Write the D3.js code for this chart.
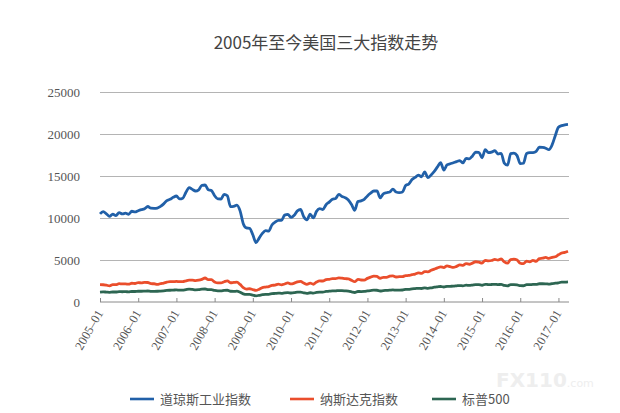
<!doctype html>
<html lang="zh">
<head>
<meta charset="UTF-8">
<title>2005年至今美国三大指数走势</title>
<script src="https://d3js.org/d3.v7.min.js"></script>
<style>
    body { margin: 0; background: #fff; }
    svg { display: block; }
    .grid line { stroke: #b4b4b4; stroke-width: 1; }
    .grid path { display: none; }
    .yaxis path, .yaxis line { display: none; }
    .xaxis path, .xaxis line { stroke: #8a8a8a; }
</style>
</head>
<body>
<svg width="620" height="413"></svg>
<script>
// monthly closes, 2005-01 .. 2017-04
const startYear = 2005, startMonth = 1;

const dow = [
    10490, 10766, 10504, 10193, 10467, 10275, 10641, 10482, 10569, 10440, 10806, 10718,
    10865, 10993, 11109, 11367, 11168, 11150, 11186, 11381, 11679, 12081, 12222, 12463,
    12622, 12269, 12354, 13063, 13628, 13409, 13212, 13358, 13896, 13930, 13372, 13265,
    12650, 12266, 12263, 12820, 12638, 11350, 11378, 11544, 10851, 9325, 8829, 8776,
    8001, 7063, 7609, 8168, 8500, 8447, 9172, 9496, 9712, 9713, 10345, 10428,
    10067, 10325, 10857, 11009, 10137, 9774, 10466, 10015, 10788, 11118, 11006, 11578,
    11892, 12226, 12320, 12811, 12570, 12414, 12143, 11614, 10913, 11955, 12046, 12218,
    12633, 12952, 13212, 13214, 12393, 12880, 13009, 13091, 13437, 13096, 13026, 13104,
    13861, 14054, 14579, 14840, 15116, 14910, 15500, 14810, 15130, 15546, 16086, 16577,
    15699, 16322, 16458, 16581, 16717, 16827, 16563, 17098, 17043, 17391, 17828, 17823,
    17165, 18133, 17776, 17841, 18011, 17620, 17690, 16528, 16285, 17664, 17720, 17425,
    16466, 16517, 17685, 17774, 17787, 17930, 18432, 18401, 18308, 18142, 18700, 19800,
    20800, 21000, 21100, 21150
];

const nasdaq = [
    2062, 2052, 1999, 1922, 2068, 2057, 2185, 2152, 2152, 2120, 2233, 2205,
    2306, 2281, 2340, 2323, 2179, 2172, 2091, 2184, 2258, 2367, 2432, 2415,
    2464, 2416, 2422, 2525, 2605, 2603, 2546, 2596, 2701, 2859, 2661, 2652,
    2390, 2271, 2279, 2413, 2523, 2293, 2326, 2368, 2092, 1721, 1536, 1577,
    1476, 1378, 1529, 1717, 1774, 1835, 1979, 2009, 2122, 2045, 2145, 2269,
    2147, 2238, 2398, 2461, 2257, 2109, 2255, 2114, 2369, 2507, 2498, 2653,
    2700, 2782, 2781, 2874, 2835, 2774, 2756, 2579, 2415, 2684, 2620, 2605,
    2814, 2967, 3092, 3046, 2827, 2935, 2940, 3067, 3116, 2977, 3010, 3020,
    3142, 3160, 3268, 3329, 3456, 3403, 3626, 3590, 3771, 3920, 4060, 4177,
    4104, 4308, 4199, 4115, 4243, 4408, 4370, 4580, 4493, 4631, 4792, 4736,
    4635, 4964, 4901, 4941, 5070, 4987, 5128, 4777, 4620, 5054, 5109, 5007,
    4614, 4558, 4870, 4775, 4948, 4843, 5162, 5213, 5312, 5189, 5324, 5383,
    5615, 5825, 5912, 6048
];

const sp500 = [
    1181, 1204, 1181, 1157, 1192, 1191, 1234, 1220, 1229, 1207, 1249, 1248,
    1280, 1281, 1295, 1311, 1270, 1270, 1277, 1304, 1336, 1378, 1401, 1418,
    1438, 1407, 1421, 1482, 1531, 1503, 1455, 1474, 1527, 1549, 1481, 1468,
    1379, 1331, 1323, 1386, 1400, 1280, 1267, 1283, 1166, 969, 896, 903,
    826, 735, 798, 873, 919, 919, 987, 1021, 1057, 1036, 1096, 1115,
    1074, 1104, 1169, 1187, 1089, 1031, 1102, 1049, 1141, 1183, 1181, 1258,
    1286, 1327, 1326, 1364, 1345, 1321, 1292, 1219, 1131, 1253, 1247, 1258,
    1312, 1366, 1408, 1398, 1310, 1362, 1379, 1407, 1441, 1412, 1416, 1426,
    1498, 1515, 1569, 1598, 1631, 1606, 1686, 1633, 1682, 1757, 1806, 1848,
    1783, 1859, 1872, 1884, 1924, 1960, 1931, 2003, 1972, 2018, 2068, 2059,
    1995, 2105, 2068, 2086, 2107, 2063, 2104, 1972, 1920, 2079, 2080, 2044,
    1940, 1932, 2060, 2065, 2097, 2099, 2174, 2171, 2168, 2126, 2199, 2239,
    2279, 2364, 2363, 2384
];

const yTicks = [0, 5000, 10000, 15000, 20000, 25000];
const seriesNames = ["道琼斯工业指数", "纳斯达克指数", "标普500"];
const seriesColors = ["#2160a8", "#ea4e2c", "#2d6652"];
const series = [dow, nasdaq, sp500];

const months = dow.map((d, i) => {
    const m = startMonth - 1 + i;
    return (startYear + Math.floor(m / 12)) + "–" + String(m % 12 + 1).padStart(2, "0");
});
const xTicks = months.filter(m => m.endsWith("–01"));

const svg = d3.select("svg");
const plotLeft = 100, plotRight = 569, plotTop = 92, plotBottom = 302;
const serif = "'Liberation Serif', 'DejaVu Serif', serif";

const x = d3.scalePoint().domain(months).range([plotLeft, plotRight - 1]);
const y = d3.scaleLinear().domain([0, 25000]).range([plotBottom, plotTop]);

// title
svg.append("text")
    .attr("x", 326).attr("y", 49)
    .attr("text-anchor", "middle")
    .style("font-family", "'Noto Sans CJK SC', sans-serif")
    .style("font-size", "17px")
    .style("fill", "#444")
    .text("2005年至今美国三大指数走势");

// grid
svg.append("g").attr("class", "grid")
    .attr("transform", `translate(${plotLeft},0)`)
    .call(d3.axisRight(y).tickValues(yTicks.slice(1)).tickSize(plotRight - plotLeft).tickFormat(""));

const yAxis = svg.append("g").attr("class", "yaxis")
    .attr("transform", `translate(${plotLeft - 17},0)`)
    .call(d3.axisLeft(y).tickValues(yTicks).tickSize(0).tickFormat(d3.format("d")));
yAxis.attr("font-family", null);
yAxis.selectAll("text")
    .style("font-family", serif).style("font-size", "13px").style("fill", "#555");

// x axis
const xAxis = svg.append("g").attr("class", "xaxis")
    .attr("transform", `translate(0,${plotBottom})`)
    .call(d3.axisBottom(x).tickValues(xTicks).tickSizeInner(-4).tickSizeOuter(0));
xAxis.attr("font-family", null);
xAxis.select(".domain").attr("d", `M${plotLeft},0H${plotRight}`);
xAxis.selectAll("text")
    .style("font-family", serif).style("font-size", "12.5px").style("fill", "#555")
    .attr("text-anchor", "end")
    .attr("dy", 0)
    .attr("transform", "translate(3,11) rotate(-60)")
    .attr("x", 0).attr("y", 0);

// lines
const line = d3.line()
    .x((d, i) => x(months[i]))
    .y(d => y(d))
    .curve(d3.curveMonotoneX);

[2, 1, 0].forEach(k => {
    svg.append("path")
        .datum(series[k])
        .attr("fill", "none")
        .attr("stroke", seriesColors[k])
        .attr("stroke-width", 2.8)
        .attr("stroke-linejoin", "round")
        .attr("d", line);
});

// legend
const legendX = [130, 290, 432];
const legend = svg.append("g");
seriesNames.forEach((name, k) => {
    legend.append("line")
        .attr("x1", legendX[k]).attr("x2", legendX[k] + 24)
        .attr("y1", 399).attr("y2", 399)
        .attr("stroke", seriesColors[k]).attr("stroke-width", 2.6);
    legend.append("text")
        .attr("x", legendX[k] + 30).attr("y", 404)
        .style("font-family", "'Noto Sans CJK SC', 'Liberation Serif', serif")
        .style("font-size", "13px")
        .style("fill", "#555")
        .text(name);
});

// watermark
const wm = svg.append("text")
    .attr("x", 496).attr("y", 387)
    .style("font-family", "'DejaVu Sans', sans-serif")
    .style("fill", "#eeeeee");
wm.append("tspan").style("font-size", "20px").style("font-weight", "bold").text("FX110");
wm.append("tspan").style("font-size", "11px").text(".com");
</script>
</body>
</html>
